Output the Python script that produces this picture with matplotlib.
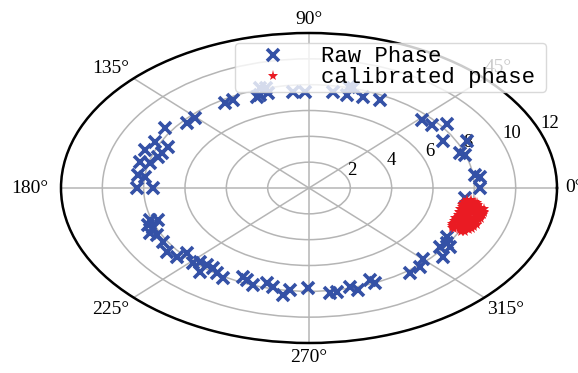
import numpy as np
import matplotlib
matplotlib.use("Agg")
import matplotlib.pyplot as plt
from matplotlib.transforms import offset_copy

# ---- data (angles in degrees, radius) ----
raw_theta = [121.6, 118.3, 108.2, 109.7, 107.0, 105.0, 105.0, 95.9, 91.5, 81.1, 75.7, 74.6, 76.0,
             69.7, 63.3, 139.5, 135.5, 146.3, 154.4, 159.6, 155.0, 159.1, 161.8, 166.1, 165.8,
             173.0, 173.9, 180.0, 180.0, 197.9, 198.7, 200.2, 202.3, 204.4, 206.4, 210.7, 215.8,
             219.9, 220.5, 226.0, 227.4, 230.5, 231.0, 233.2, 235.9, 239.2, 245.2, 247.2, 250.2,
             254.6, 257.2, 261.4, 263.4, 269.6, 277.1, 279.5, 284.5, 286.7, 292.5, 293.4, 306.6,
             311.3, 315.1, 324.2, 327.5, 320.5, 330.4, 326.0, 43.9, 39.4, 36.6, 29.3, 25.5, 20.4,
             18.7, 7.2, 5.9, 0.0, 354.1]
raw_r = [7.74, 7.75, 7.59, 7.49, 8.11, 7.62, 8.03, 7.48, 7.45, 7.53, 7.44, 8.04, 8.07,
         7.52, 7.64, 7.76, 7.74, 8.38, 8.26, 8.46, 7.53, 7.61, 7.69, 8.42, 7.93,
         8.33, 7.98, 8.32, 7.55, 8.08, 7.72, 8.30, 8.16, 8.45, 8.20, 8.21, 8.47,
         8.33, 7.76, 8.08, 7.79, 7.74, 8.38, 7.75, 7.95, 8.12, 7.60, 7.74, 7.99,
         7.64, 7.87, 8.39, 7.96, 7.75, 8.20, 8.18, 7.93, 8.25, 7.72, 8.03, 8.20,
         8.15, 7.79, 7.81, 7.92, 8.40, 7.68, 8.21, 7.59, 7.70, 8.32, 7.43, 8.47, 7.79,
         7.97, 8.09, 8.32, 8.27, 7.59]

cal_theta = [-7.2, -6.8, -7.5,
             -8.3, -7.9, -8.1,
             -9.2, -8.8, -9.4, -9.0,
             -10.1, -9.7, -10.4, -9.9, -10.3,
             -11.2, -10.8, -11.4, -11.0, -10.7,
             -12.3, -11.8, -12.1, -12.4, -11.9, -12.2,
             -13.1, -12.8, -13.3, -13.0, -12.7,
             -14.2, -13.8, -14.1, -14.3, -13.9, -14.0,
             -15.1, -14.8, -15.3, -15.0, -14.7,
             -16.2, -15.8, -16.1, -16.3, -15.9, -16.0,
             -17.1, -16.8, -17.3, -17.0, -16.9,
             -18.2, -17.8, -18.1, -18.3, -17.9,
             -19.0, -19.3, -18.8, -19.1, -19.2,
             -20.1, -19.8, -20.3, -20.0, -19.9,
             -21.2, -20.8, -21.1, -21.3, -20.9,
             -22.0, -22.3, -21.8, -22.1, -22.2,
             -23.1, -22.8, -23.2, -23.0,
             -24.0, -23.8, -24.2, -24.6, -25.0]
cal_r = [7.70, 7.90, 8.10,
         7.60, 7.85, 8.20,
         7.55, 7.80, 8.05, 8.30,
         7.50, 7.75, 8.00, 8.25, 8.45,
         7.55, 7.80, 8.10, 8.35, 8.60,
         7.50, 7.70, 7.95, 8.20, 8.50, 8.65,
         7.60, 7.85, 8.10, 8.40, 8.70,
         7.50, 7.75, 8.00, 8.30, 8.55, 8.70,
         7.55, 7.80, 8.05, 8.35, 8.60,
         7.50, 7.70, 7.95, 8.20, 8.45, 8.65,
         7.55, 7.85, 8.10, 8.40, 8.60,
         7.45, 7.70, 8.00, 8.25, 8.55,
         7.50, 7.80, 8.05, 8.35, 8.60,
         7.45, 7.70, 7.95, 8.20, 8.50,
         7.50, 7.80, 8.10, 8.40, 8.55,
         7.45, 7.75, 8.00, 8.30, 8.50,
         7.50, 7.90, 8.15, 8.40,
         7.60, 8.00, 8.30, 7.70, 8.10]

r_ticks = [2, 4, 6, 8, 10, 12]
r_max = 12
theta_ticks = [0, 45, 90, 135, 180, 225, 270, 315]
theta_labels = ["0°", "45°", "90°", "135°", "180°", "225°", "270°", "315°"]
series_labels = ["Raw Phase", "calibrated phase"]

# ---- figure ----
W, H = 578, 373
fig = plt.figure(figsize=(W / 100, H / 100), dpi=100)
cx, cy, rx, ry = 309, 188, 248, 155
ax = fig.add_axes([(cx - rx) / W, (H - cy - ry) / H, 2 * rx / W, 2 * ry / H], projection="polar")
ax.set_aspect("auto")

blue = "#3451a6"
red = "#ea1b23"
ax.plot(np.deg2rad(raw_theta), raw_r, linestyle="none", marker="x", ms=9, mew=2.6,
        color=blue, label=series_labels[0], zorder=3)
ax.plot(np.deg2rad(cal_theta), cal_r, linestyle="none", marker="*", ms=8, mew=0,
        color=red, label=series_labels[1], zorder=4)

ax.set_ylim(0, r_max)
ax.set_yticks(r_ticks)
ax.set_rlabel_position(21)
ax.set_xticks(np.deg2rad(theta_ticks))
ax.set_xticklabels([])
for t in ax.get_yticklabels():
    t.set_fontfamily("Liberation Serif")
    t.set_fontsize(13.5)
ax.grid(True, color="#b5b5b5", linewidth=1.1)
ax.spines["polar"].set_linewidth(1.8)
ax.spines["polar"].set_color("black")

# theta labels placed just outside the (elliptical) frame
offsets = {0: (17, 1), 45: (14, 11), 90: (0, 14), 135: (-23, 10),
           180: (-31, -1), 225: (-23, -12), 270: (0, -15), 315: (21, -12)}
for ang, lab in zip(theta_ticks, theta_labels):
    dx, dy = offsets[ang]
    tr = offset_copy(ax.transData, fig=fig, x=dx, y=dy, units="dots")
    ax.text(np.deg2rad(ang), r_max, lab, transform=tr, ha="center", va="center",
            fontfamily="Liberation Serif", fontsize=14, clip_on=False, zorder=1)

leg = ax.legend(loc="upper left",
                bbox_to_anchor=(235 / W, 1 - 90 / H, 311 / W, 47 / H),
                bbox_transform=fig.transFigure, borderaxespad=0, mode="expand",
                prop={"family": "Liberation Mono", "size": 16},
                handlelength=3.1, handletextpad=0.6, borderpad=0.15,
                labelspacing=0.0, framealpha=0.8, edgecolor="#d0d0d0", fancybox=True)
leg.set_zorder(10)

fig.savefig("out.png", dpi=100)
